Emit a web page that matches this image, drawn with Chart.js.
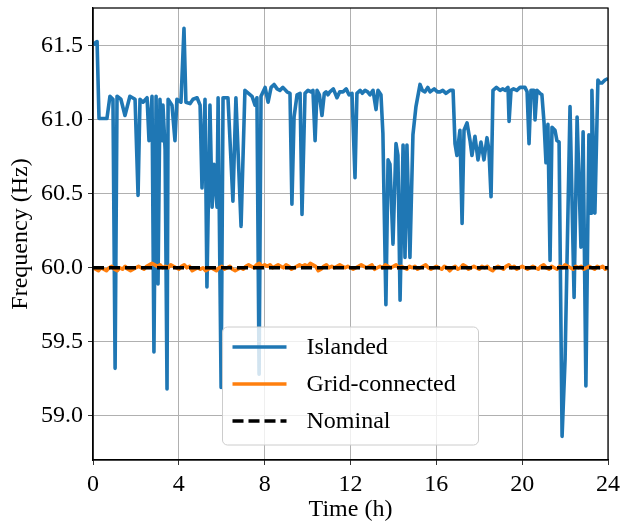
<!DOCTYPE html>
<html>
<head>
<meta charset="utf-8">
<script src="https://cdn.jsdelivr.net/npm/chart.js@4.4.1/dist/chart.umd.min.js"></script>
<style>
  html, body { margin: 0; padding: 0; background: #ffffff; }
  #wrap { width: 621px; height: 524px; position: relative; }
</style>
</head>
<body>
<div id="wrap"><canvas id="c" width="621" height="524"></canvas></div>
<script>
// ---------------- data ----------------
const xTicks = [0, 4, 8, 12, 16, 20, 24];
const yTicks = [59.0, 59.5, 60.0, 60.5, 61.0, 61.5];
const seriesLabels = ["Islanded", "Grid-connected", "Nominal"];

const islandedHours = [
  0.00, 0.19, 0.28, 0.65, 0.79, 0.93, 1.03, 1.12, 1.30, 1.49, 1.72, 1.96, 2.10, 2.19, 2.33, 2.52,
  2.61, 2.75, 2.84, 2.94, 3.03, 3.12, 3.22, 3.26, 3.36, 3.45, 3.50, 3.68, 3.82, 3.91, 4.10, 4.24,
  4.33, 4.52, 4.66, 4.85, 4.99, 5.08, 5.22, 5.31, 5.45, 5.55, 5.64, 5.78, 5.83, 5.97, 6.06, 6.29,
  6.52, 6.66, 6.90, 7.08, 7.41, 7.55, 7.64, 7.74, 7.83, 8.02, 8.16, 8.30, 8.44, 8.58, 8.71, 8.85,
  9.04, 9.18, 9.27, 9.37, 9.51, 9.65, 9.74, 9.88, 10.02, 10.16, 10.25, 10.35, 10.44, 10.55, 10.67, 10.78,
  10.86, 10.95, 11.04, 11.20, 11.37, 11.50, 11.65, 11.80, 11.93, 12.07, 12.21, 12.30, 12.45, 12.55, 12.68, 12.80,
  12.91, 13.05, 13.19, 13.28, 13.42, 13.51, 13.56, 13.65, 13.75, 13.84, 13.98, 14.12, 14.21, 14.31, 14.45, 14.54,
  14.63, 14.77, 14.91, 15.05, 15.24, 15.35, 15.47, 15.60, 15.71, 15.90, 16.05, 16.17, 16.30, 16.45, 16.64, 16.78,
  16.87, 16.96, 17.10, 17.20, 17.29, 17.43, 17.57, 17.66, 17.80, 17.94, 18.08, 18.22, 18.36, 18.45, 18.55, 18.64,
  18.80, 18.97, 19.10, 19.20, 19.34, 19.39, 19.48, 19.60, 19.75, 19.90, 20.13, 20.23, 20.32, 20.41, 20.55, 20.60,
  20.69, 20.83, 20.92, 21.02, 21.11, 21.20, 21.30, 21.39, 21.53, 21.62, 21.72, 21.86, 22.00, 22.23, 22.42, 22.56,
  22.74, 22.84, 22.97, 23.11, 23.21, 23.25, 23.39, 23.53, 23.62, 23.72, 23.86, 24.00
];
const islandedFreq = [
  61.51, 61.53, 61.01, 61.01, 61.16, 61.14, 59.32, 61.16, 61.14, 61.03, 61.16, 61.14, 60.49, 61.14, 61.12, 61.15,
  60.86, 61.16, 59.43, 61.16, 59.89, 61.14, 60.86, 61.10, 60.80, 59.18, 61.14, 61.10, 60.86, 61.14, 61.12, 61.62,
  61.12, 61.11, 61.14, 61.15, 61.10, 60.54, 61.14, 59.87, 61.10, 60.41, 60.70, 60.41, 61.15, 59.19, 61.15, 61.15,
  60.45, 61.15, 60.28, 61.20, 61.16, 61.10, 61.15, 59.28, 61.16, 61.22, 61.12, 61.22, 61.24, 61.21, 61.20, 61.22,
  61.19, 61.18, 60.43, 61.02, 61.17, 61.18, 60.36, 61.18, 61.20, 61.19, 61.20, 60.86, 61.20, 61.17, 61.03, 61.18,
  61.19, 61.17, 61.19, 61.21, 61.15, 61.19, 61.19, 61.21, 61.17, 61.18, 60.61, 61.18, 61.20, 61.18, 61.20, 61.19,
  61.17, 61.20, 61.07, 61.20, 61.17, 60.91, 60.49, 59.75, 60.73, 60.70, 60.16, 60.84, 60.76, 59.78, 60.83, 60.07,
  60.83, 60.07, 60.90, 61.09, 61.24, 61.20, 61.19, 61.22, 61.19, 61.21, 61.19, 61.19, 61.20, 61.18, 61.20, 61.20,
  60.84, 60.76, 60.93, 60.30, 60.93, 60.98, 60.86, 60.76, 60.89, 60.73, 60.85, 60.73, 60.88, 60.80, 60.48, 61.20,
  61.22, 61.20, 61.21, 61.20, 61.22, 60.99, 61.20, 61.21, 61.20, 61.22, 61.22, 61.19, 60.84, 61.20, 61.20, 61.00,
  61.20, 61.18, 61.17, 60.98, 60.71, 60.97, 60.05, 60.95, 60.93, 60.86, 60.85, 58.86, 59.38, 61.09, 59.80, 61.02,
  60.14, 60.92, 59.20, 60.90, 60.37, 61.20, 60.37, 61.27, 61.25, 61.25, 61.27, 61.28
];

const gridFreq = [
  60.00, 59.99, 59.98, 60.00, 59.99, 59.98, 60.00, 60.01, 59.99, 59.98, 60.00, 59.99, 60.01, 59.99, 59.98, 59.99,
  60.00, 60.01, 60.00, 59.99, 60.01, 60.02, 60.03, 60.02, 60.01, 60.02, 60.00, 60.01, 60.00, 60.02, 60.01, 60.00,
  59.99, 60.01, 60.02, 60.00, 60.01, 59.98, 59.99, 60.00, 59.99, 60.00, 59.98, 59.99, 60.00, 59.99, 59.98, 60.00,
  60.01, 59.99, 60.00, 60.01, 59.99, 59.98, 59.99, 60.00, 59.99, 60.01, 60.02, 60.01, 60.00, 60.02, 60.03, 60.01,
  60.02, 60.01, 60.02, 60.00, 60.01, 60.02, 60.01, 60.00, 60.02, 60.01, 59.99, 60.00, 60.01, 60.02, 60.01, 60.02,
  60.01, 60.03, 60.02, 60.01, 59.98, 59.99, 60.01, 60.02, 60.00, 60.01, 60.00, 60.01, 60.02, 60.01, 60.00, 60.01,
  60.00, 59.99, 60.00, 60.01, 60.02, 60.01, 60.00, 60.01, 60.02, 59.99, 60.00, 60.01, 60.00, 60.02, 60.01, 60.00,
  60.01, 60.02, 60.00, 60.01, 60.00, 59.99, 60.01, 60.00, 60.01, 59.99, 60.00, 60.01, 60.02, 60.00, 59.99, 60.00,
  60.01, 60.00, 59.99, 60.01, 60.00, 59.98, 60.00, 60.01, 59.99, 60.00, 60.02, 60.01, 59.99, 60.00, 60.01, 60.00,
  59.99, 60.01, 60.00, 60.01, 59.99, 59.98, 60.00, 60.01, 60.00, 59.99, 60.01, 60.02, 60.00, 60.01, 59.99, 60.00,
  60.01, 60.00, 59.99, 60.00, 60.01, 60.00, 59.99, 60.01, 60.02, 60.00, 59.99, 60.01, 60.00, 59.99, 60.01, 60.00,
  60.02, 60.01, 60.00, 59.99, 60.01, 60.00, 60.01, 59.99, 60.00, 60.01, 60.00, 59.99, 60.01, 60.00, 60.01, 59.99,
  60.00
];
const nominalFreq = 60.0;
const hourSpan = [0, 24];

// ---------------- build ----------------
const islandedPts = islandedHours.map((h, i) => ({ x: h, y: islandedFreq[i] }));
const gridPts = gridFreq.map((v, i) => ({ x: hourSpan[0] + (hourSpan[1] - hourSpan[0]) * i / (gridFreq.length - 1), y: v }));
const nominalPts = hourSpan.map(h => ({ x: h, y: nominalFreq }));

const FONT = "'Liberation Serif', 'Times New Roman', serif";

const framePlugin = {
  id: 'frame',
  afterDatasetsDraw(chart) {
    const { ctx, chartArea: a } = chart;
    ctx.save();
    ctx.strokeStyle = '#000';
    ctx.lineWidth = 1.25;
    ctx.strokeRect(a.left, a.top, a.right - a.left, a.bottom - a.top);
    ctx.restore();
  }
};

const legendPlugin = {
  id: 'boxLegend',
  afterDraw(chart) {
    const { ctx, chartArea: a } = chart;
    const w = 256, h = 118;
    const cx = (a.left + a.right) / 2;
    const x0 = cx - w / 2, y0 = a.bottom - 15 - h;
    ctx.save();
    ctx.beginPath();
    ctx.roundRect(x0, y0, w, h, 5);
    ctx.fillStyle = 'rgba(255,255,255,0.8)';
    ctx.fill();
    ctx.strokeStyle = '#cccccc';
    ctx.lineWidth = 1;
    ctx.stroke();
    chart.data.datasets.forEach((ds, i) => {
      const y = y0 + 20 + i * 37;
      ctx.beginPath();
      ctx.setLineDash(ds.borderDash || []);
      ctx.strokeStyle = ds.borderColor;
      ctx.lineWidth = ds.borderWidth;
      ctx.moveTo(x0 + 10, y);
      ctx.lineTo(x0 + 64, y);
      ctx.stroke();
      ctx.setLineDash([]);
      ctx.fillStyle = '#000';
      ctx.font = "24px " + FONT;
      ctx.textBaseline = 'middle';
      ctx.textAlign = 'left';
      ctx.fillText(ds.label, x0 + 84, y + 1);
    });
    ctx.restore();
  }
};

new Chart(document.getElementById('c'), {
  type: 'line',
  data: {
    datasets: [
      { label: seriesLabels[0], data: islandedPts, borderColor: '#1f77b4', borderWidth: 3.6, pointRadius: 0, tension: 0, borderJoinStyle: 'round', order: 3 },
      { label: seriesLabels[1], data: gridPts, borderColor: '#ff7f0e', borderWidth: 3.6, pointRadius: 0, tension: 0, borderJoinStyle: 'round', order: 2 },
      { label: seriesLabels[2], data: nominalPts, borderColor: '#000000', borderWidth: 3.6, borderDash: [11, 5], pointRadius: 0, tension: 0, order: 1 }
    ]
  },
  options: {
    responsive: false,
    animation: false,
    devicePixelRatio: 1,
    layout: { padding: { top: 8, right: 13, left: 0, bottom: 0 } },
    plugins: { legend: { display: false }, tooltip: { enabled: false } },
    scales: {
      x: {
        type: 'linear', min: 0, max: 24,
        afterBuildTicks: s => { s.ticks = xTicks.map(v => ({ value: v })); },
        afterFit: s => { s.height = 64; s.paddingLeft = 0; s.paddingRight = 0; },
        ticks: { font: { family: FONT, size: 24 }, color: '#000', padding: 5, maxRotation: 0, callback: v => String(v) },
        grid: { color: '#b0b0b0', lineWidth: 1, tickLength: 5, tickColor: '#333' },
        border: { color: '#000', width: 1.25 },
        title: { display: true, text: 'Time (h)', font: { family: FONT, size: 24 }, color: '#000', padding: { top: 0, bottom: 0 } }
      },
      y: {
        type: 'linear', min: 58.70, max: 61.757,
        afterBuildTicks: s => { s.ticks = yTicks.map(v => ({ value: v })); },
        afterFit: s => { s.width = 93; s.paddingTop = 0; s.paddingBottom = 0; },
        ticks: { font: { family: FONT, size: 24 }, color: '#000', padding: 5, callback: v => Number(v).toFixed(1) },
        grid: { color: '#b0b0b0', lineWidth: 1, tickLength: 5, tickColor: '#333' },
        border: { color: '#000', width: 1.25 },
        title: { display: true, text: 'Frequency (Hz)', font: { family: FONT, size: 24 }, color: '#000', padding: { top: 6, bottom: 4 } }
      }
    }
  },
  plugins: [framePlugin, legendPlugin]
});
</script>
</body>
</html>
